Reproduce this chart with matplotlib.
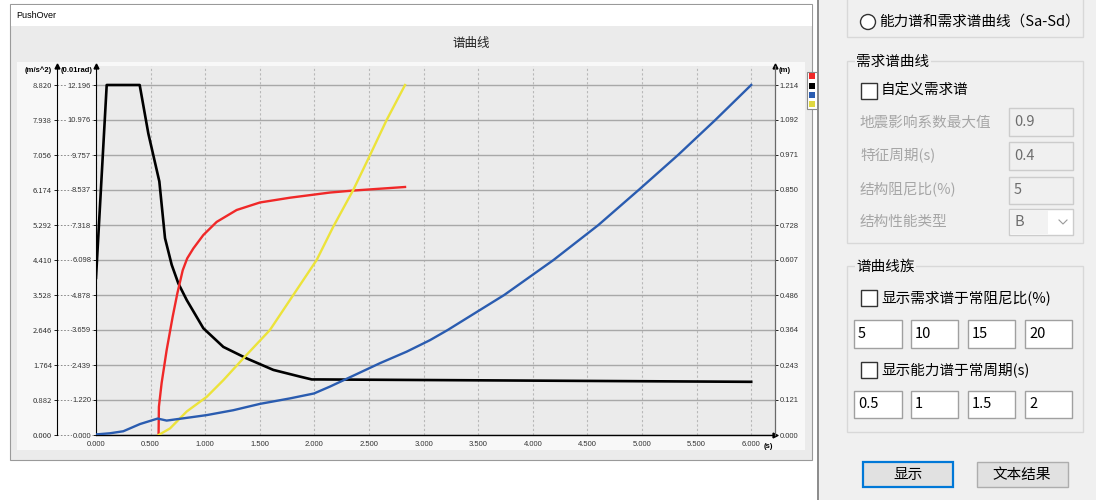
import matplotlib
matplotlib.use('Agg')
import matplotlib.pyplot as plt
import numpy as np
from matplotlib.patches import Rectangle, Circle
from matplotlib.transforms import blended_transform_factory

plt.rcParams['font.family'] = ['Noto Sans CJK SC', 'DejaVu Sans']

# period axis (s)
x_ticks = [0.0, 0.5, 1.0, 1.5, 2.0, 2.5, 3.0, 3.5, 4.0, 4.5, 5.0, 5.5, 6.0]

# red curve, Sa (m/s^2)
red_T = [0.573, 0.576, 0.601, 0.647, 0.702, 0.745, 0.794, 0.835, 0.891, 0.983,
         1.105, 1.288, 1.502, 1.777, 2.143, 2.356, 2.83]
red_Sa = [0.0, 0.71, 1.31, 2.14, 2.98, 3.57, 4.15, 4.45, 4.70, 5.04,
          5.37, 5.67, 5.86, 5.98, 6.11, 6.16, 6.25]

# black curve, Sa (m/s^2)
black_T = [0.0, 0.098, 0.40, 0.479, 0.58, 0.632, 0.693, 0.754, 0.831, 0.983,
           1.166, 1.38, 1.624, 1.87, 1.976, 2.05, 6.0]
black_Sa = [3.96, 8.82, 8.82, 7.60, 6.39, 4.96, 4.29, 3.82, 3.40, 2.69,
            2.22, 1.93, 1.64, 1.47, 1.40, 1.40, 1.34]

# blue curve, Sd (m)
blue_T = [0.0, 0.128, 0.25, 0.403, 0.556, 0.565, 0.647, 0.861, 1.014, 1.258,
          1.502, 1.777, 1.996, 2.143, 2.341, 2.60, 2.845, 3.059, 3.22, 3.74,
          4.19, 4.60, 4.97, 5.33, 5.67, 6.0]
blue_m = [0.002, 0.006, 0.013, 0.038, 0.056, 0.057, 0.050, 0.061, 0.069, 0.086,
          0.108, 0.127, 0.144, 0.168, 0.203, 0.249, 0.289, 0.329, 0.364, 0.486,
          0.607, 0.728, 0.850, 0.971, 1.092, 1.214]

# yellow curve (0.01rad)
yellow_T = [0.573, 0.678, 0.831, 1.014, 1.166, 1.349, 1.593, 1.807, 2.021,
            2.173, 2.356, 2.494, 2.662, 2.83]
yellow_rad = [0.0, 0.23, 0.82, 1.33, 1.91, 2.67, 3.66, 4.88, 6.10,
              7.26, 8.54, 9.63, 10.98, 12.196]

sa_labels = ['0.000', '0.882', '1.764', '2.646', '3.528', '4.410', '5.292',
             '6.174', '7.056', '7.938', '8.820']
rad_labels = ['0.000', '1.220', '2.439', '3.659', '4.878', '6.098', '7.318',
              '8.537', '9.757', '10.976', '12.196']
m_labels = ['0.000', '0.121', '0.243', '0.364', '0.486', '0.607', '0.728',
            '0.850', '0.971', '1.092', '1.214']
sa_max, rad_max, m_max = 8.820, 12.196, 1.2138

W, H = 1096, 500
fig = plt.figure(figsize=(W / 100, H / 100), dpi=100)
fig.patch.set_facecolor('white')


def frac(x0, y0, x1, y1):
    return [x0 / W, 1 - y1 / H, (x1 - x0) / W, (y1 - y0) / H]


num = ['Liberation Sans', 'DejaVu Sans']

# window frame behind the chart
bg = fig.add_axes([0, 0, 1, 1])
bg.set_xlim(0, W)
bg.set_ylim(H, 0)
bg.axis('off')
bg.set_zorder(-5)
bg.add_patch(Rectangle((10, 4), 802, 456, fc='#ebebeb', ec='#9a9a9a', lw=0.8))
bg.add_patch(Rectangle((10.5, 4.5), 801, 21, fc='white', ec='none'))
bg.text(16, 15, 'PushOver', fontsize=6.5, va='center', family=num)
bg.add_patch(Rectangle((17, 62), 788, 388, fc='#f8f8f8', ec='none'))
bg.text(471, 43, '谱曲线', fontsize=9, ha='center', va='center', color='#222222')

# units and legend swatches
bg.text(38, 70, '(m/s^2)', fontsize=5.5, ha='center', va='center', weight='bold', family=num)
bg.text(77, 70, '(0.01rad)', fontsize=5.5, ha='center', va='center', weight='bold', family=num)
bg.text(779, 70, '(m)', fontsize=5.5, ha='left', va='center', weight='bold', family=num)
bg.text(768, 446, '(s)', fontsize=5.5, ha='center', va='center', weight='bold', family=num)
bg.add_patch(Rectangle((807, 72), 20, 37, fc='white', ec='#8a8a8a', lw=0.8))
for yy, c in zip([73, 83, 92, 101], ['#f02828', '#000000', '#2a5cb0', '#e0d840']):
    bg.add_patch(Rectangle((808.5, yy), 6, 6, fc=c, ec='none'))

# main chart
n_int = (435 - 66) / 35.0
ax = fig.add_axes(frac(96, 66, 775, 435))
ax.set_facecolor('#ebebeb')
ax.set_xlim(0, (775 - 96) / 109.2)
ax.set_ylim(0, n_int * sa_max / 10)
ax.set_xticks(x_ticks)
ax.set_xticklabels(['%.3f' % t for t in x_ticks], family=num)
ax.set_yticks(np.linspace(0, sa_max, 11))
ax.set_yticklabels(sa_labels, family=num)
ax.tick_params(axis='x', length=0, pad=4, labelsize=5.5, labelcolor='#333333')
ax.tick_params(axis='y', length=2.5, width=0.6, pad=1, labelsize=5.5, labelcolor='#333333')
for s in ['top', 'right']:
    ax.spines[s].set_visible(False)
ax.spines['left'].set_position(('outward', 39 * 0.72))
ax.spines['left'].set_linewidth(0.8)
ax.spines['bottom'].set_linewidth(1.0)
ax.grid(axis='y', color='#a8a8a8', lw=1.0, ls='-')
ax.grid(axis='x', color='#b8b8b8', lw=0.8, ls=(0, (2, 2)))
ax.set_axisbelow(True)

# dashed leaders from the Sa axis to the rotation labels
lead = blended_transform_factory(ax.transAxes, ax.transData)
sa_axis_x = -39 / 679
for yv in np.linspace(0, sa_max, 11):
    ax.plot([sa_axis_x, 0], [yv, yv], transform=lead, ls=(0, (2, 2)), color='#7a7a7a',
            lw=0.6, clip_on=False, zorder=0)

# axis arrows
for xa, ya, mk in [(sa_axis_x, 1, '^'), (0, 1, '^'), (1, 1, '^'), (1, 0, '>')]:
    ax.plot(xa, ya, mk, color='black', ms=3.5, transform=ax.transAxes, clip_on=False)

ax.plot(black_T, black_Sa, color='black', lw=1.9, zorder=4)
ax.plot(red_T, red_Sa, color='#f02828', lw=1.7, zorder=4)

ax_rad = ax.twinx()
ax_rad.set_ylim(0, n_int * rad_max / 10)
for s in ['top', 'right', 'bottom']:
    ax_rad.spines[s].set_visible(False)
ax_rad.spines['left'].set_visible(True)
ax_rad.spines['left'].set_linewidth(0.8)
ax_rad.yaxis.set_ticks_position('left')
ax_rad.set_yticks(np.linspace(0, rad_max, 11))
ax_rad.set_yticklabels(rad_labels, family=num,
                       bbox=dict(fc='#f8f8f8', ec='none', pad=0.6))
ax_rad.tick_params(axis='y', length=2.5, width=0.6, pad=1, labelsize=5.5, labelcolor='#333333')
ax_rad.plot(yellow_T, yellow_rad, color='#ece33a', lw=1.7)

ax_m = ax.twinx()
ax_m.set_ylim(0, n_int * m_max / 10)
for s in ['top', 'left', 'bottom']:
    ax_m.spines[s].set_visible(False)
ax_m.spines['right'].set_color('#6a6a6a')
ax_m.spines['right'].set_linewidth(0.9)
ax_m.set_yticks(np.linspace(0, m_max, 11))
ax_m.set_yticklabels(m_labels, family=num)
ax_m.tick_params(axis='y', length=2.5, width=0.6, pad=1, labelsize=5.5, labelcolor='#333333')
ax_m.plot(blue_T, blue_m, color='#2a5cb0', lw=1.7)

# settings panel on the right
rp = fig.add_axes(frac(812, 0, 1096, 500))
rp.set_xlim(812, 1096)
rp.set_ylim(500, 0)
rp.axis('off')
rp.set_zorder(10)
rp.add_patch(Rectangle((817, 0), 279, 500, fc='#f0f0f0', ec='none'))
rp.plot([817.5, 817.5], [0, 500], color='#7a7a7a', lw=1.2)

grp = dict(fc='none', ec='#d8d8d8', lw=1.0)
rp.add_patch(Rectangle((847, -5), 236, 42, **grp))
rp.add_patch(Rectangle((847, 61), 236, 182, **grp))
rp.add_patch(Rectangle((847, 266), 236, 166, **grp))

fs = 10.5
rp.add_patch(Circle((868, 22), 7.5, fc='white', ec='#333333', lw=1.0))
rp.text(879, 22, '能力谱和需求谱曲线（Sa-Sd）', fontsize=fs, va='center')

box = dict(fc='#f0f0f0', ec='none', pad=1)
rp.text(856, 62, '需求谱曲线', fontsize=fs, va='center', bbox=box)
rp.add_patch(Rectangle((861, 83), 16, 16, fc='white', ec='#333333', lw=1.0))
rp.text(881, 91, '自定义需求谱', fontsize=fs, va='center')

grey = '#a6a6a6'
for yy, lab in zip([123, 155, 189, 222], ['地震影响系数最大值', '特征周期(s)', '结构阻尼比(%)', '结构性能类型']):
    rp.text(860, yy, lab, fontsize=fs, va='center', color=grey)
for (y0, y1), val in zip([(108, 136), (142, 170), (177, 204)], ['0.9', '0.4', '5']):
    rp.add_patch(Rectangle((1009, y0), 64, y1 - y0, fc='#f0f0f0', ec='#cccccc', lw=1.0))
    rp.text(1014, (y0 + y1) / 2, val, fontsize=fs, va='center', color='#6d6d6d')
rp.add_patch(Rectangle((1009, 209), 64, 26, fc='white', ec='#cccccc', lw=1.0))
rp.add_patch(Rectangle((1010, 210), 38, 24, fc='#f2f2f2', ec='none'))
rp.text(1014, 222, 'B', fontsize=fs, va='center', color='#6d6d6d')
rp.plot([1059, 1063, 1067], [220, 224, 220], color='#9a9a9a', lw=0.8)

rp.text(856, 267, '谱曲线族', fontsize=fs, va='center', bbox=box)
rp.add_patch(Rectangle((861, 290), 16, 16, fc='white', ec='#333333', lw=1.0))
rp.text(881, 298, '显示需求谱于常阻尼比(%)', fontsize=fs, va='center')
rp.add_patch(Rectangle((861, 362), 16, 16, fc='white', ec='#333333', lw=1.0))
rp.text(881, 370, '显示能力谱于常周期(s)', fontsize=fs, va='center')

xs = [(854, 902), (911, 958), (968, 1015), (1025, 1072)]
for (y0, y1), vals in zip([(320, 348), (391, 418)], [['5', '10', '15', '20'], ['0.5', '1', '1.5', '2']]):
    for (x0, x1), v in zip(xs, vals):
        rp.add_patch(Rectangle((x0, y0), x1 - x0, y1 - y0, fc='white', ec='#a0a0a0', lw=1.0))
        rp.text(x0 + 4, (y0 + y1) / 2, v, fontsize=fs, va='center')

rp.add_patch(Rectangle((863, 462), 90, 25, fc='#e1e1e1', ec='#0078d7', lw=1.6))
rp.text(908, 475, '显示', fontsize=fs, ha='center', va='center')
rp.add_patch(Rectangle((977, 462), 91, 25, fc='#e1e1e1', ec='#adadad', lw=1.0))
rp.text(1022, 475, '文本结果', fontsize=fs, ha='center', va='center')

fig.savefig('out.png', dpi=100)
